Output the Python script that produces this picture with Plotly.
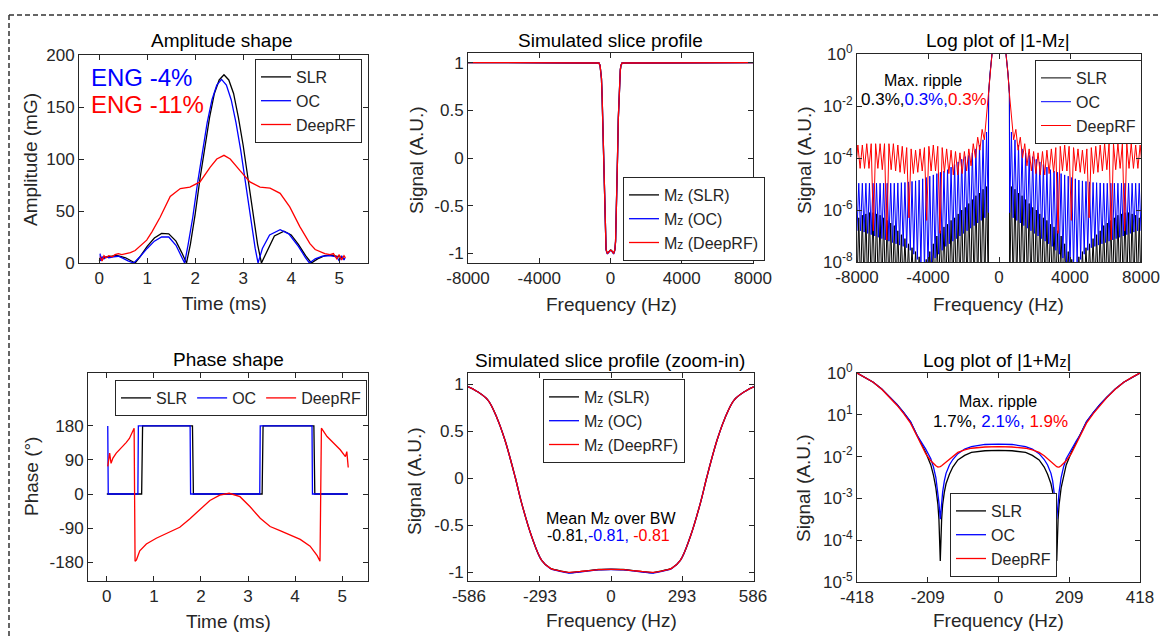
import plotly.graph_objects as go

FONT = "Liberation Sans, Arial, Helvetica, sans-serif"
BLACK, BLUE, RED = "#000000", "#0000FF", "#FF0000"
AXC = "#262626"
W, H = 1168, 639
OX, OY = 8, 8   # page body margin offset of the rendered figure

# ---------------- Panel A: amplitude shape (mG) vs time (ms) ----------------
AMP_T_SLR = [0.0, 0.05, 0.2, 0.37, 0.55, 0.68, 0.75, 0.85, 1.0, 1.15,
             1.3, 1.45, 1.6, 1.72, 1.82, 1.9, 2.0, 2.1, 2.2, 2.3,
             2.4, 2.5, 2.6, 2.7, 2.8, 2.9, 3.0, 3.1, 3.2, 3.3,
             3.38, 3.5, 3.65, 3.85, 4.0, 4.15, 4.3, 4.42, 4.55, 4.7,
             4.85, 5.0, 5.12]
AMP_SLR = [2, 5, 6, 7.4, 5, 2, 0, 6, 16, 24,
           28.5, 28, 21, 10, 0, 18, 47, 81, 113, 140,
           163, 176, 181, 176, 163, 140, 113, 81, 47, 18,
           0, 12, 26, 30.5, 27, 18, 7, 0, 4, 7,
           7.5, 6, 4]
AMP_T_OC = [0.02, 0.03, 0.06, 0.1, 0.15, 0.2, 0.3, 0.4, 0.5, 0.6,
            0.72, 0.85, 1.0, 1.15, 1.3, 1.45, 1.6, 1.7, 1.78, 1.85,
            1.95, 2.05, 2.15, 2.25, 2.35, 2.45, 2.55, 2.65, 2.75, 2.85,
            2.95, 3.05, 3.15, 3.25, 3.31, 3.4, 3.55, 3.77, 3.95, 4.15,
            4.3, 4.38, 4.5, 4.65, 4.8, 4.95, 5.0, 5.05, 5.1, 5.12]
AMP_OC = [9, 2, 6, 4, 6, 5, 6, 6.5, 4.5, 2,
          0, 6, 14, 21, 25, 25, 17, 8, 0, 17,
          44, 77, 108, 135, 157, 171, 176.5, 171, 157, 135,
          108, 77, 44, 14, 0, 14, 27, 32, 28, 16,
          5, 0, 4, 6.5, 7, 6, 2, 7, 3, 5]
AMP_T_DRF = [0.02, 0.06, 0.1, 0.14, 0.2, 0.27, 0.33, 0.4, 0.47, 0.55,
             0.65, 0.75, 0.85, 0.99, 1.1, 1.27, 1.48, 1.69, 1.89, 2.1,
             2.31, 2.45, 2.6, 2.73, 2.93, 3.14, 3.35, 3.56, 3.77, 3.97,
             4.18, 4.39, 4.5, 4.6, 4.7, 4.81, 4.88, 4.95, 5.0, 5.05,
             5.1, 5.13]
AMP_DRF = [6, 2, 7, 5, 7, 6, 8, 9, 8, 9,
           10, 12, 16, 22, 30, 44, 64, 71.6, 73, 78,
           92, 100, 103.5, 100, 89, 78, 73, 72, 67, 54,
           35, 18.6, 13, 10.6, 9, 8, 9, 4, 8, 3,
           7, 5]

# ---------------- Panel D: phase shape (deg) vs time (ms) ----------------
PH_T_SLR = [0.0, 0.74, 0.76, 1.82, 1.84, 3.30, 3.32, 4.40, 4.42, 5.12]
PH_SLR = [0, 0, 180, 180, 0, 0, 180, 180, 0, 0]
PH_T_OC = [0.02, 0.03, 0.66, 0.67, 1.77, 1.78, 3.25, 3.26, 4.36, 4.37, 5.12]
PH_OC = [180, 0, 0, 180, 180, 0, 0, 180, 180, 0, 0]
PH_T_DRF = [0.02, 0.06, 0.09, 0.13, 0.2, 0.27, 0.34, 0.41, 0.48, 0.54,
            0.58, 0.6, 0.63, 0.7, 0.84, 1.05, 1.34, 1.55, 1.76, 1.98,
            2.19, 2.4, 2.6, 2.83, 3.04, 3.26, 3.47, 3.68, 3.9, 4.11,
            4.32, 4.47, 4.53, 4.56, 4.68, 4.82, 4.96, 5.07, 5.1, 5.13]
PH_DRF = [73, 108, 81, 95, 108, 117, 128, 136, 147, 161,
          174, -178, -174, -150, -132, -117, -100, -88, -66, -40,
          -17, -3, 2, -7, -33, -64, -86, -97, -108, -120,
          -138, -163, -178, 174, 152, 134, 117, 99, 112, 70]

# ---------------- Panels B/E: Mz slice profile (positive half, symmetric) ----------------
MZ_F_HALF = [0, 50, 92, 130, 175, 230, 250, 286, 327, 369,
             396, 438, 470, 507, 550, 586, 650, 8000]
MZ_SLR_HALF = [-0.965, -0.968, -0.98, -0.99, -1.0, -0.97, -0.955, -0.87, -0.62, -0.26,
               0.02, 0.41, 0.64, 0.83, 0.92, 0.97, 0.995, 1.0]
MZ_OC_HALF = [-0.968, -0.971, -0.983, -0.995, -1.005, -0.975, -0.958, -0.872, -0.62, -0.26,
              0.02, 0.41, 0.64, 0.83, 0.92, 0.97, 0.995, 1.0]
MZ_DRF_HALF = [-0.966, -0.969, -0.98, -0.99, -0.998, -0.972, -0.956, -0.87, -0.62, -0.26,
               0.02, 0.41, 0.64, 0.83, 0.92, 0.97, 0.995, 1.0]

# ---------------- Panel C: |1-Mz| (log), positive half, mirrored ----------------
CENTER_F = [0, 300, 396, 438, 507, 586]
CENTER_V = [1.97, 1.99, 0.98, 0.59, 0.17, 0.03]
F_LOBE_PEAK = [700, 900, 1100, 1300, 1500, 1700, 1900, 2100, 2300, 2500,
               2700, 2900, 3100, 3300, 3500, 3700, 3900, 4100, 4300, 4500,
               4700, 4900, 5100, 5300, 5500, 5700, 5900, 6100, 6300, 6500,
               6700, 6900, 7100, 7300, 7500, 7700, 7900]
F_LOBE_NULL = [600, 800, 1000, 1200, 1400, 1600, 1800, 2000, 2200, 2400,
               2600, 2800, 3000, 3200, 3400, 3600, 3800, 4000, 4200, 4400,
               4600, 4800, 5000, 5200, 5400, 5600, 5800, 6000, 6200, 6400,
               6600, 6800, 7000, 7200, 7400, 7600, 7800, 8000]
SLR_PEAK_EXP = [-5.1, -5.2, -5.35, -5.45, -5.6, -5.75, -5.9, -6.0, -6.15, -6.3,
                -6.4, -6.55, -6.65, -6.8, -7.0, -7.3, -7.6, -7.9, -8.1, -7.8,
                -7.6, -7.45, -7.3, -7.1, -6.95, -6.8, -6.6, -6.5, -6.4, -6.3,
                -6.2, -6.15, -6.1, -6.1, -6.15, -6.2, -6.3]
SLR_NULL_EXP = [-9.0, -9.0, -9.0, -9.0, -9.0, -9.0, -9.0, -9.0, -9.0, -9.0,
                -9.0, -9.0, -9.0, -9.0, -9.0, -9.0, -9.0, -9.0, -9.0, -9.0,
                -9.0, -9.0, -9.0, -9.0, -9.0, -9.0, -9.0, -9.0, -9.0, -9.0,
                -9.0, -9.0, -9.0, -9.0, -9.0, -9.0, -9.0, -9.0]
OC_PEAK_EXP = [-3.0, -3.3, -3.5, -3.65, -3.8, -3.9, -3.95, -4.05, -4.15, -4.25,
               -4.35, -4.45, -4.5, -4.55, -4.6, -4.65, -4.7, -4.75, -4.8, -4.85,
               -4.88, -4.9, -4.92, -4.94, -4.95, -4.96, -4.97, -4.97, -4.97, -4.97,
               -4.97, -4.97, -4.97, -4.97, -4.97, -4.97, -4.97]
OC_NULL_EXP = [-6.1, -6.3, -6.4, -6.5, -6.6, -6.7, -6.8, -6.9, -7.0, -7.1,
               -7.2, -7.3, -7.4, -7.55, -7.7, -7.85, -8.1, -8.3, -8.3, -8.1,
               -7.9, -7.7, -7.55, -7.45, -7.4, -7.35, -7.3, -7.25, -7.2, -7.15,
               -7.1, -7.05, -7.0, -6.95, -6.9, -6.85, -6.8, -6.8]
F_DRF_PEAK = [700, 950, 1200, 1450, 1700, 1950, 2200, 2450, 2700, 2950,
              3200, 3450, 3700, 3950, 4200, 4450, 4700, 4950, 5200, 5450,
              5700, 5950, 6200, 6450, 6700, 6950, 7200, 7450, 7700, 7950]
DRF_PEAK_EXP = [-2.4, -2.9, -3.2, -3.45, -3.65, -3.75, -3.8, -3.75, -3.7, -3.65,
                -3.6, -3.55, -3.5, -3.55, -3.6, -3.65, -3.7, -3.65, -3.6, -3.55,
                -3.5, -3.45, -3.45, -3.45, -3.45, -3.45, -3.45, -3.45, -3.5, -3.5]
F_DRF_NULL = [825, 1075, 1325, 1575, 1825, 2075, 2325, 2575, 2825, 3075,
              3325, 3575, 3825, 4075, 4325, 4575, 4825, 5075, 5325, 5575,
              5825, 6075, 6325, 6575, 6825, 7075, 7325, 7575, 7825, 8075]
DRF_NULL_EXP = [-3.3, -3.7, -4.0, -4.3, -4.5, -4.6, -4.65, -4.65, -4.6, -4.55,
                -6.9, -4.5, -4.5, -6.4, -4.5, -4.55, -4.6, -6.3, -4.6, -4.55,
                -4.5, -4.45, -7.15, -4.45, -4.4, -6.8, -4.4, -4.4, -4.4, -4.4]

# ---------------- Panel F: |1+Mz| (log), positive half, mirrored ----------------
P1_F_HALF = [0, 40, 80, 100, 120, 135, 145, 155, 160, 165,
             168, 172, 176, 179, 185, 192, 200, 215, 230, 240,
             260, 280, 300, 320, 345, 370, 395, 418]
P1_SLR_EXP = [-1.85, -1.86, -1.9, -1.97, -2.08, -2.25, -2.42, -2.65, -2.85, -3.15,
              -3.5, -4.5, -3.5, -3.15, -2.75, -2.45, -2.2, -1.9, -1.65, -1.5,
              -1.17, -0.95, -0.75, -0.58, -0.38, -0.22, -0.1, 0.0]
P1_OC_EXP = [-1.70, -1.71, -1.76, -1.82, -1.93, -2.07, -2.2, -2.4, -2.58, -2.85,
             -3.1, -3.5, -3.1, -2.85, -2.5, -2.25, -2.05, -1.82, -1.62, -1.5,
             -1.16, -0.95, -0.75, -0.58, -0.38, -0.22, -0.1, 0.0]
P1_DRF_EXP = [-1.76, -1.77, -1.8, -1.84, -1.9, -1.98, -2.05, -2.12, -2.16, -2.2,
              -2.22, -2.24, -2.25, -2.25, -2.22, -2.17, -2.1, -1.93, -1.68, -1.52,
              -1.2, -0.97, -0.77, -0.59, -0.39, -0.22, -0.1, 0.0]


# ---------------- helpers ----------------
def mirror(fh, vh):
    xs = [-f for f in reversed(fh) if f > 0] + list(fh)
    ys = [v for f, v in zip(reversed(fh), reversed(vh)) if f > 0] + list(vh)
    return xs, ys


def ripple(center_f, center_v, f_null, v_null, f_peak, v_peak):
    pts = list(zip(center_f, center_v))
    pts += list(zip(f_null, v_null)) + list(zip(f_peak, v_peak))
    pts.sort(key=lambda p: p[0])
    return mirror([p[0] for p in pts], [p[1] for p in pts])


def px(xp):
    return (xp - OX) / W


def py(yp):
    return 1 - (yp - OY) / H


def zsmall(s, size=12):
    return s.replace("Mz", "M<span style='font-size:%dpx'>z</span>" % size)


fig = go.Figure()

common = dict(showline=True, linecolor=AXC, linewidth=1, mirror="ticks",
              ticks="inside", ticklen=5, tickcolor=AXC, tickwidth=1,
              showgrid=False, zeroline=False, automargin=False,
              tickfont=dict(size=17, color=AXC, family=FONT))


def add(x, y, color, name, xa, ya, leg, shape="linear", width=1.3):
    fig.add_trace(go.Scatter(x=x, y=y, mode="lines", name=name,
                             line=dict(color=color, width=width, shape=shape),
                             xaxis=xa, yaxis=ya, legend=leg, hoverinfo="skip"))


# Panel A
for t, v, c, n in [(AMP_T_SLR, AMP_SLR, BLACK, "SLR"), (AMP_T_OC, AMP_OC, BLUE, "OC"),
                   (AMP_T_DRF, AMP_DRF, RED, "DeepRF")]:
    add(t, v, c, n, "x", "y", "legend")

# Panel B
for vh, c, n in [(MZ_SLR_HALF, BLACK, "SLR"), (MZ_OC_HALF, BLUE, "OC"), (MZ_DRF_HALF, RED, "DeepRF")]:
    x, y = mirror(MZ_F_HALF, vh)
    add(x, y, c, zsmall("Mz (" + n + ")"), "x2", "y2", "legend2")

# Panel C
for (fn, vn, fp, vp), c, n in [((F_LOBE_NULL, SLR_NULL_EXP, F_LOBE_PEAK, SLR_PEAK_EXP), BLACK, "SLR"),
                               ((F_LOBE_NULL, OC_NULL_EXP, F_LOBE_PEAK, OC_PEAK_EXP), BLUE, "OC"),
                               ((F_DRF_NULL, DRF_NULL_EXP, F_DRF_PEAK, DRF_PEAK_EXP), RED, "DeepRF")]:
    x, y = ripple(CENTER_F, CENTER_V, fn, [10 ** e for e in vn], fp, [10 ** e for e in vp])
    add(x, y, c, n, "x3", "y3", "legend3", width=1.0)

# Panel D
for t, v, c, n in [(PH_T_SLR, PH_SLR, BLACK, "SLR"), (PH_T_OC, PH_OC, BLUE, "OC"),
                   (PH_T_DRF, PH_DRF, RED, "DeepRF")]:
    add(t, v, c, n, "x4", "y4", "legend4")

# Panel E
for vh, c, n in [(MZ_SLR_HALF, BLACK, "SLR"), (MZ_OC_HALF, BLUE, "OC"), (MZ_DRF_HALF, RED, "DeepRF")]:
    x, y = mirror(MZ_F_HALF, vh)
    add(x, y, c, zsmall("Mz (" + n + ")"), "x5", "y5", "legend5", shape="spline")

# Panel F
for eh, c, n in [(P1_SLR_EXP, BLACK, "SLR"), (P1_OC_EXP, BLUE, "OC"), (P1_DRF_EXP, RED, "DeepRF")]:
    x, y = mirror(P1_F_HALF, [10 ** e for e in eh])
    add(x, y, c, n, "x6", "y6", "legend6")


def sup(e):
    return "10<sup>%s</sup>" % e


layout = dict(
    width=W, height=H, autosize=False,
    margin=dict(l=0, r=0, t=0, b=0, pad=0, autoexpand=False),
    paper_bgcolor="white", plot_bgcolor="white",
    font=dict(family=FONT, color=AXC),
    xaxis=dict(domain=[px(79), px(368)], range=[-0.42, 5.6], anchor="y",
               tickvals=[0, 1, 2, 3, 4, 5], ticktext=["0", "1", "2", "3", "4", "5"], **common),
    yaxis=dict(domain=[py(263), py(55)], range=[0, 200], anchor="x",
               tickvals=[0, 50, 100, 150, 200], ticktext=["0", "50", "100", "150", "200"], **common),
    xaxis2=dict(domain=[px(468), px(753)], range=[-8000, 8000], anchor="y2",
                tickvals=[-8000, -4000, 0, 4000, 8000], ticktext=["-8000", "-4000", "0", "4000", "8000"], **common),
    yaxis2=dict(domain=[py(263), py(53)], range=[-1.1, 1.1], anchor="x2",
                tickvals=[-1, -0.5, 0, 0.5, 1], ticktext=["-1", "-0.5", "0", "0.5", "1"], **common),
    xaxis3=dict(domain=[px(857), px(1141)], range=[-8000, 8000], anchor="y3",
                tickvals=[-8000, -4000, 0, 4000, 8000], ticktext=["-8000", "-4000", "0", "4000", "8000"], **common),
    yaxis3=dict(domain=[py(262), py(54)], type="log", range=[-8, 0], anchor="x3",
                tickvals=[1e-8, 1e-6, 1e-4, 1e-2, 1],
                ticktext=[sup("-8"), sup("-6"), sup("-4"), sup("-2"), sup("0")], **common),
    xaxis4=dict(domain=[px(88), px(368)], range=[-0.4, 5.55], anchor="y4",
                tickvals=[0, 1, 2, 3, 4, 5], ticktext=["0", "1", "2", "3", "4", "5"], **common),
    yaxis4=dict(domain=[py(581), py(373)], range=[-230, 320], anchor="x4",
                tickvals=[-180, -90, 0, 90, 180], ticktext=["-180", "-90", "0", "90", "180"], **common),
    xaxis5=dict(domain=[px(468), px(754)], range=[-590, 590], anchor="y5",
                tickvals=[-586, -293, 0, 293, 586], ticktext=["-586", "-293", "0", "293", "586"], **common),
    yaxis5=dict(domain=[py(581), py(373)], range=[-1.09, 1.12], anchor="x5",
                tickvals=[-1, -0.5, 0, 0.5, 1], ticktext=["-1", "-0.5", "0", "0.5", "1"], **common),
    xaxis6=dict(domain=[px(857), px(1140)], range=[-418, 418], anchor="y6",
                tickvals=[-418, -209, 0, 209, 418], ticktext=["-418", "-209", "0", "209", "418"], **common),
    yaxis6=dict(domain=[py(582), py(373)], type="log", range=[-5, 0], anchor="x6",
                tickvals=[1e-5, 1e-4, 1e-3, 1e-2, 1e-1, 1],
                ticktext=[sup("-5"), sup("-4"), sup("-3"), sup("-2"), sup("1"), sup("0")], **common),
)

legbase = dict(bgcolor="white", bordercolor=AXC, borderwidth=1, itemwidth=30,
               font=dict(size=16, color=AXC, family=FONT), xanchor="left",
               tracegroupgap=0, itemclick=False, itemdoubleclick=False)
layout["legend"] = dict(x=px(255), y=py(59), yanchor="top", **legbase)
layout["legend2"] = dict(x=px(623), y=py(261), yanchor="bottom", **legbase)
layout["legend3"] = dict(x=px(1035), y=py(60), yanchor="top", **legbase)
layout["legend4"] = dict(x=px(115), y=py(380), yanchor="top", orientation="h", **legbase)
layout["legend5"] = dict(x=px(543), y=py(379), yanchor="top", **legbase)
layout["legend6"] = dict(x=px(950), y=py(577), yanchor="bottom", **legbase)

fig.update_layout(**layout)

ann = []


def text(x, y, s, size=19, color="#000000", angle=0, xanchor="center"):
    ann.append(dict(x=px(x), y=py(y), xref="paper", yref="paper", text=s, showarrow=False,
                    xanchor=xanchor, yanchor="middle", textangle=angle,
                    font=dict(size=size, color=color, family=FONT)))


# panel titles
text(222, 41, "Amplitude shape")
text(610, 40, "Simulated slice profile")
text(998, 40, zsmall("Log plot of |1-Mz|", 14))
text(228, 359, "Phase shape")
text(610, 360, "Simulated slice profile (zoom-in)")
text(997, 360, zsmall("Log plot of |1+Mz|", 14))

# axis titles
text(224, 303, "Time (ms)", color=AXC)
text(228, 621, "Time (ms)", color=AXC)
text(611, 304, "Frequency (Hz)", color=AXC)
text(998, 304, "Frequency (Hz)", color=AXC)
text(611, 620, "Frequency (Hz)", color=AXC)
text(998, 620, "Frequency (Hz)", color=AXC)
text(30, 160, "Amplitude (mG)", color=AXC, angle=-90)
text(416, 160, "Signal (A.U.)", color=AXC, angle=-90)
text(804, 160, "Signal (A.U.)", color=AXC, angle=-90)
text(31, 477, "Phase (°)", color=AXC, angle=-90)
text(414, 481, "Signal (A.U.)", color=AXC, angle=-90)
text(803, 488, "Signal (A.U.)", color=AXC, angle=-90)

# in-plot annotations
text(89, 77, "ENG -4%", size=24, color=BLUE, xanchor="left")
text(89, 105, "ENG -11%", size=24, color=RED, xanchor="left")


def tri(a, b, c, sep=","):
    return ("<span style='color:%s'>%s%s</span><span style='color:%s'>%s%s</span>"
            "<span style='color:%s'>%s</span>" % (BLACK, a, sep, BLUE, b, sep, RED, c))


text(923, 81, "Max. ripple", size=16, color=BLACK)
text(924, 100, tri("0.3%", "0.3%", "0.3%"), size=17)
text(611, 518, zsmall("Mean Mz over BW"), size=16, color=BLACK)
text(608, 535, tri("-0.81", "-0.81", " -0.81"), size=16)
text(998, 401, "Max. ripple", size=16, color=BLACK)
text(1000, 421, tri("1.7%", " 2.1%", " 1.9%"), size=17)

fig.update_layout(annotations=ann)

# dashed frame
fig.update_layout(shapes=[
    dict(type="line", xref="paper", yref="paper", x0=px(9), x1=1.0, y0=py(15), y1=py(15),
         line=dict(color="#333333", width=1.5, dash="5px,3px")),
    dict(type="line", xref="paper", yref="paper", x0=px(9), x1=px(9), y0=py(15), y1=0,
         line=dict(color="#333333", width=1.5, dash="5px,3px")),
])

fig.write_html("out.html")
